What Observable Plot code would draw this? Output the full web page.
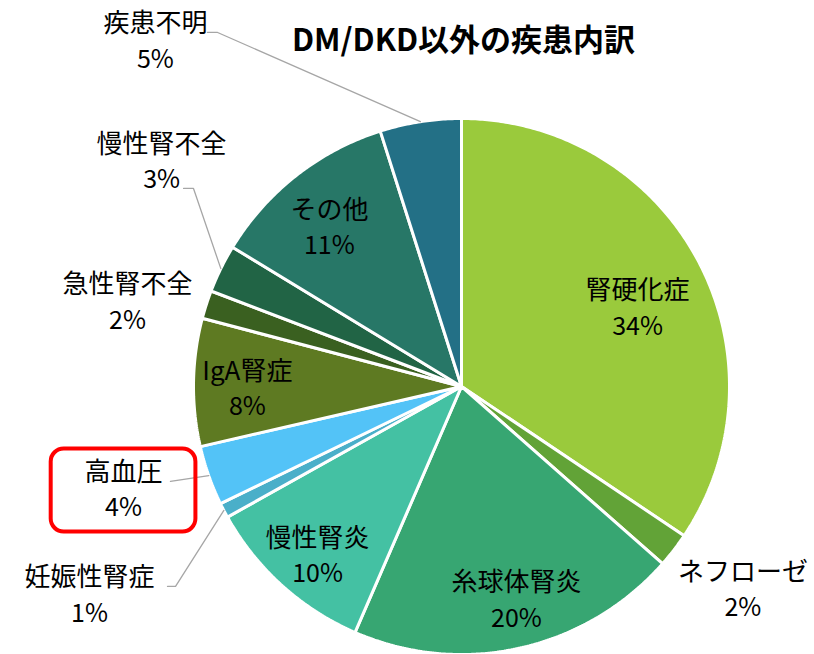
<!DOCTYPE html>
<html>
<head>
<meta charset="utf-8">
<script src="https://cdn.jsdelivr.net/npm/d3@7"></script>
<script src="https://cdn.jsdelivr.net/npm/@observablehq/plot@0.6"></script>
<style>
  html, body { margin: 0; padding: 0; background: #fff; }
  #chart svg { display: block; }
</style>
</head>
<body>
<div id="chart"></div>
<script>
// ---- data ----
const title = "DM/DKD以外の疾患内訳";
const categories = ["腎硬化症", "ネフローゼ", "糸球体腎炎", "慢性腎炎", "妊娠性腎症", "高血圧", "IgA腎症", "急性腎不全", "慢性腎不全", "その他", "疾患不明"];
const values = [34.4, 2.1, 20.0, 10.4, 0.9, 3.6, 7.7, 1.7, 2.9, 11.4, 4.9];
const colors = ["#9ACA3C", "#62A337", "#37A672", "#44C1A3", "#4AAFC9", "#53C3F7", "#5E7A22", "#3A6020", "#216445", "#277767", "#237086"];
const highlighted = ["高血圧"];

// ---- layout (unit = pie radius, origin = pie centre, y up) ----
const W = 814, H = 654, R = 268, CX = 461, CY = 386;
const labelPos = {
  "腎硬化症": [0.657, 0.291], "ネフローゼ": [1.050, -0.761], "糸球体腎炎": [0.205, -0.799],
  "慢性腎炎": [-0.537, -0.634], "妊娠性腎症": [-1.388, -0.780], "高血圧": [-1.261, -0.388],
  "IgA腎症": [-0.799, -0.011], "急性腎不全": [-1.246, 0.313], "慢性腎不全": [-1.119, 0.836],
  "その他": [-0.493, 0.590], "疾患不明": [-1.142, 1.287]
};
const leaderStart = {
  "疾患不明": [[-0.948, 1.321], [-0.910, 1.321]],
  "慢性腎不全": [[-1.037, 0.739], [-1.000, 0.739]],
  "高血圧": [[-1.086, -0.354]],
  "妊娠性腎症": [[-1.097, -0.746], [-1.067, -0.746]]
};
const boxHalf = [0.27, 0.155];

// ---- build geometry from data ----
const rows = categories.map((name, i) => ({name, value: values[i], color: colors[i]}));
const arcs = d3.pie().sort(null).value(d => d.value).startAngle(0).endAngle(2 * Math.PI)(rows);
const polys = [];
const mids = {};
arcs.forEach(a => {
  const name = a.data.name;
  polys.push({name, color: a.data.color, x: 0, y: 0});
  const n = Math.max(2, Math.ceil((a.endAngle - a.startAngle) / (Math.PI / 360)));
  for (let k = 0; k <= n; k++) {
    const t = a.startAngle + (a.endAngle - a.startAngle) * k / n;
    polys.push({name, color: a.data.color, x: Math.sin(t), y: Math.cos(t)});
  }
  const m = (a.startAngle + a.endAngle) / 2;
  mids[name] = [Math.sin(m), Math.cos(m)];
});
const leaders = [];
Object.entries(leaderStart).forEach(([name, pts]) => {
  pts.forEach(p => leaders.push({name, x: p[0], y: p[1]}));
  leaders.push({name, x: mids[name][0], y: mids[name][1]});
});
const labels = rows.map(r => ({
  name: r.name,
  pct: Math.round(r.value) + "%",
  x: labelPos[r.name][0],
  y: labelPos[r.name][1]
}));
const boxes = labels.filter(l => highlighted.includes(l.name)).map(l => ({
  x1: l.x - boxHalf[0], x2: l.x + boxHalf[0], y1: l.y - boxHalf[1], y2: l.y + boxHalf[1]
}));

const font = "'Noto Sans CJK JP', 'Noto Sans', sans-serif";
const chart = Plot.plot({
  width: W, height: H, margin: 0,
  x: {domain: [-CX / R, (W - CX) / R], axis: null},
  y: {domain: [-(H - CY) / R, CY / R], axis: null},
  color: {type: "identity"},
  style: {fontFamily: font, background: "white"},
  marks: [
    Plot.line(polys, {x: "x", y: "y", z: "name", fill: "color", stroke: "white", strokeWidth: 3, curve: "linear-closed", strokeLinejoin: "miter"}),
    Plot.line(leaders, {x: "x", y: "y", z: "name", stroke: "#A6A6A6", strokeWidth: 1.3}),
    Plot.rect(boxes, {x1: "x1", x2: "x2", y1: "y1", y2: "y2", fill: "none", stroke: "#FF0000", strokeWidth: 4, rx: 13}),
    Plot.text(labels, {x: "x", y: "y", text: "name", dy: -18, fontSize: 26, fill: "#000", ariaLabel: "names"}),
    Plot.text(labels, {x: "x", y: "y", text: "pct", dy: 18, fontSize: 25, fill: "#000"}),
    Plot.text([title], {frameAnchor: "top", text: d => d, dx: CX - W / 2 + 2, dy: 28, fontSize: 31, fontWeight: "bold", fill: "#000", ariaLabel: "title"})
  ]
});
d3.select(chart).selectAll('g[aria-label="names"] text').style("letter-spacing", "2.4px");
d3.select(chart).selectAll('g[aria-label="title"] text').style("letter-spacing", "1.5px");
document.getElementById("chart").appendChild(chart);
</script>
</body>
</html>
